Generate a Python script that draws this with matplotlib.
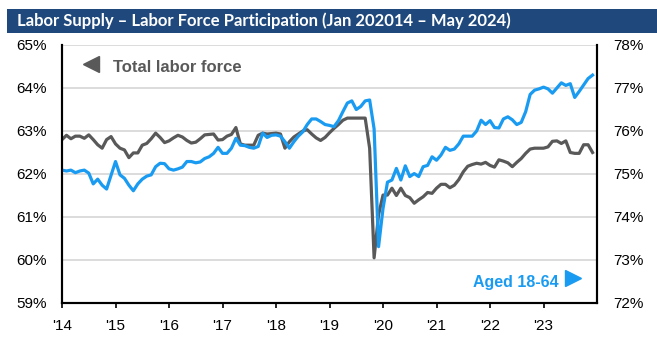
import matplotlib.pyplot as plt
plt.switch_backend('agg')
from matplotlib.patches import Rectangle
import numpy as np

# Monthly readings, first visible point sits on the '14 tick
total_lf = [62.80, 62.90, 62.82, 62.88, 62.88, 62.83, 62.91, 62.80, 62.68, 62.60,
            62.80, 62.87, 62.70, 62.60, 62.56, 62.38, 62.49, 62.49, 62.67, 62.71,
            62.82, 62.95, 62.85, 62.73, 62.77, 62.84, 62.90, 62.86, 62.78, 62.72,
            62.74, 62.82, 62.91, 62.92, 62.93, 62.79, 62.80, 62.88, 62.92, 63.08,
            62.70, 62.67, 62.67, 62.67, 62.90, 62.95, 62.93, 62.94, 62.95, 62.93,
            62.60, 62.75, 62.86, 62.93, 63.00, 63.03, 62.93, 62.84, 62.78, 62.85,
            62.96, 63.06, 63.15, 63.25, 63.30, 63.30, 63.30, 63.30, 63.30, 62.60,
            60.05, 61.05, 61.51, 61.51, 61.67, 61.50, 61.67, 61.50, 61.45, 61.32,
            61.40, 61.47, 61.57, 61.55, 61.67, 61.76, 61.76, 61.68, 61.74, 61.87,
            62.05, 62.18, 62.22, 62.25, 62.23, 62.27, 62.20, 62.16, 62.33, 62.30,
            62.26, 62.17, 62.27, 62.36, 62.48, 62.58, 62.60, 62.60, 62.60, 62.63,
            62.76, 62.77, 62.71, 62.77, 62.50, 62.48, 62.48, 62.68, 62.68, 62.50]

aged_18_64 = [75.09, 75.07, 75.09, 75.03, 75.07, 75.09, 75.02, 74.77, 74.88, 74.74,
              74.65, 74.97, 75.29, 74.98, 74.90, 74.74, 74.61, 74.77, 74.88, 74.95,
              74.98, 75.17, 75.25, 75.24, 75.12, 75.09, 75.12, 75.16, 75.29, 75.29,
              75.26, 75.28, 75.36, 75.40, 75.48, 75.62, 75.48, 75.48, 75.60, 75.83,
              75.67, 75.66, 75.62, 75.60, 75.64, 75.95, 75.85, 75.90, 75.91, 75.88,
              75.75, 75.60, 75.75, 75.88, 75.98, 76.15, 76.28, 76.28, 76.22, 76.15,
              76.13, 76.10, 76.24, 76.45, 76.65, 76.70, 76.50, 76.57, 76.70, 76.72,
              76.05, 73.31, 74.20, 74.81, 74.86, 75.13, 74.86, 75.19, 74.94, 75.01,
              74.94, 75.17, 75.20, 75.40, 75.32, 75.44, 75.62, 75.55, 75.58, 75.70,
              75.88, 75.88, 75.88, 76.00, 76.25, 76.15, 76.24, 76.08, 76.07, 76.28,
              76.33, 76.26, 76.15, 76.20, 76.45, 76.85, 76.95, 76.98, 77.02, 76.98,
              76.88, 77.00, 77.12, 77.06, 77.10, 76.78, 76.92, 77.07, 77.22, 77.30]

year_ticks = list(range(2014, 2024))
year_labels = ["'" + str(y)[2:] for y in year_ticks]
left_ticks = [59, 60, 61, 62, 63, 64, 65]
right_ticks = [72, 73, 74, 75, 76, 77, 78]

months = 2014 + np.arange(len(total_lf)) / 12.0

gray = '#595959'
blue = '#1A9BF2'
navy = '#1F497D'
tick_font = 'Liberation Sans'

fig = plt.figure(figsize=(6.57, 3.44), dpi=100)

# title bar
fig.patches.append(Rectangle((0.0107, 0.904), 0.99, 0.07, transform=fig.transFigure,
                             facecolor=navy, edgecolor='none'))
fig.text(0.026, 0.939, 'Labor Supply \u2013 Labor Force Participation (Jan 202014 \u2013 May 2024)',
         color='white', fontsize=12, fontweight='bold', family='Lato', va='center')

ax = fig.add_axes([0.0944, 0.1192, 0.8143, 0.75])
ax2 = ax.twinx()

ax.plot(months, total_lf, color=gray, lw=2.3, solid_joinstyle='round')
ax2.plot(months, aged_18_64, color=blue, lw=2.3, solid_joinstyle='round')

ax.set_xlim(2014, 2024)
ax.set_ylim(59, 65)
ax2.set_ylim(72, 78)

for y in left_ticks[1:]:
    ax.axhline(y, color='#D9D9D9', lw=1.3, zorder=0)

ax.set_yticks(left_ticks)
ax.set_yticklabels([str(t) + '%' for t in left_ticks], family=tick_font, fontsize=11)
ax2.set_yticks(right_ticks)
ax2.set_yticklabels([str(t) + '%' for t in right_ticks], family=tick_font, fontsize=11)
ax.set_xticks(year_ticks)
ax.set_xticklabels(year_labels, family=tick_font, fontsize=11)

ax.tick_params(axis='y', length=0, pad=11)
ax2.tick_params(axis='y', length=0, pad=12)
ax.tick_params(axis='x', length=3.5, width=1.2, direction='out', pad=8)

for a in (ax, ax2):
    a.spines['top'].set_visible(False)
    for s in ('left', 'right', 'bottom'):
        a.spines[s].set_linewidth(1.5)
        a.spines[s].set_color('black')

# series labels
ax.plot([0.0551], [0.928], marker='<', ms=12, color=gray, transform=ax.transAxes, clip_on=False)
ax.text(0.0948, 0.8965, 'Total labor force', transform=ax.transAxes, color=gray,
        fontsize=12, fontweight='bold', family=tick_font, va='baseline')
ax2.text(0.9277, 0.0632, 'Aged 18-64', transform=ax.transAxes, color=blue,
         fontsize=11.5, fontweight='bold', family=tick_font, ha='right', va='baseline')
ax2.plot([0.9542], [0.095], marker='>', ms=11.5, color=blue, transform=ax.transAxes, clip_on=False)

fig.savefig('out.png', dpi=100)
